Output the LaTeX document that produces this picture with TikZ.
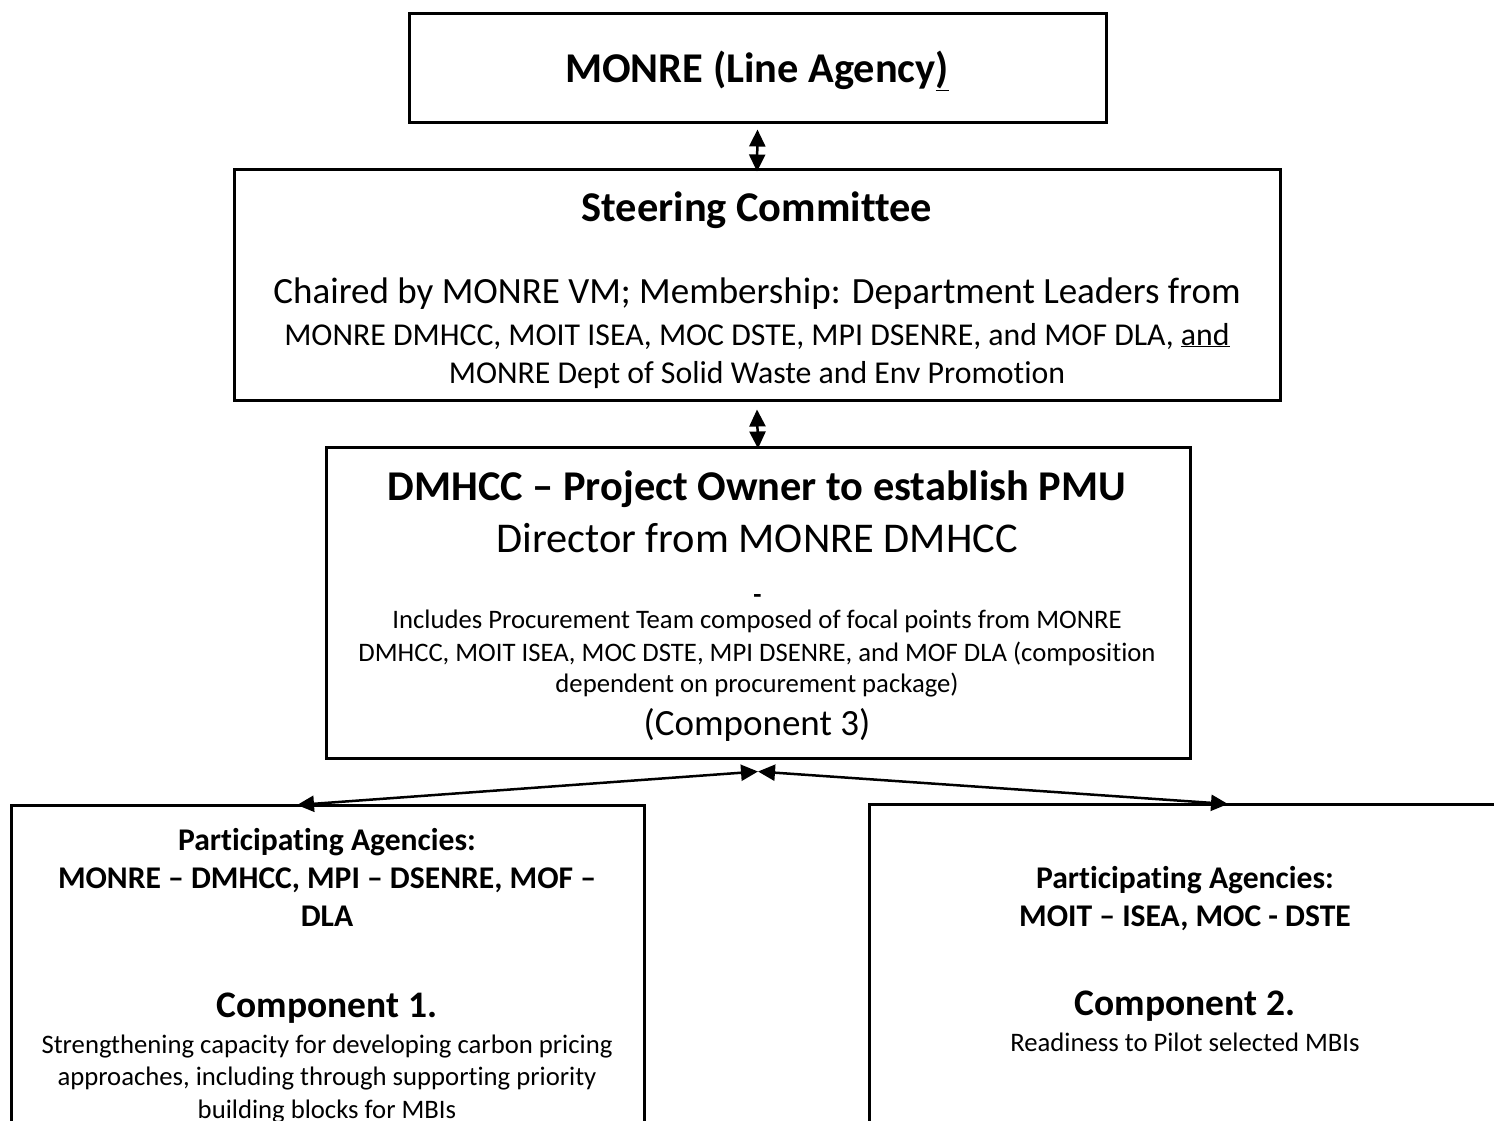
\documentclass[tikz,border=0pt]{standalone}
\usepackage{fontspec}
\setmainfont{Carlito}[Ligatures=TeX, RawFeature={-liga;-clig;-dlig}]
\usetikzlibrary{arrows.meta,fit,calc}
\begin{document}
\begin{tikzpicture}[x=1pt,y=-1pt,
  box/.style={draw, line width=3pt, inner sep=0pt},
  dblarrow/.style={line width=2.5pt, {Triangle[length=17pt,width=16pt]}-{Triangle[length=17pt,width=16pt]}},
  txt/.style={anchor=base, inner sep=0pt},
  fHB/.style={font=\fontsize{42.4}{50}\selectfont\bfseries},
  fHR/.style={font=\fontsize{42.4}{50}\selectfont},
  fMR/.style={font=\fontsize{37}{44}\selectfont},
  fMB/.style={font=\fontsize{37.5}{44}\selectfont\bfseries},
  fSR/.style={font=\fontsize{31.8}{38}\selectfont},
  fSB/.style={font=\fontsize{31.6}{38}\selectfont\bfseries},
  fXR/.style={font=\fontsize{26.7}{32}\selectfont},
  fXB/.style={font=\fontsize{26.7}{32}\selectfont\bfseries}
]
\useasboundingbox (0,0) rectangle (1494,1120);
\fill[white] (0,0) rectangle (1494,1120);
\clip (0,0) rectangle (1494,1120);

% boxes
\node[box, fit={(409,13) (1106,122)}] (monre) {};
\node[box, fit={(234,169) (1280,400)}] (steer) {};
\node[box, fit={(326,447) (1190,758)}] (dm) {};
\node[box, fit={(11,805) (644,1160)}] (lb) {};
\node[box, fit={(869,804) (1501,1160)}] (rb) {};

% texts
\node[txt, fHB] (t1) at (757,82) {MONRE (Line Agency\underline{)}};
\node[txt, fHB] (t2) at (757,221) {Steering Committee};
\node[txt, fMR] (t3) at (757,303) {Chaired by MONRE VM; Membership: Department Leaders from};
\node[txt, fSR] (t4) at (757,345) {MONRE DMHCC, MOIT ISEA, MOC DSTE, MPI DSENRE, and MOF DLA, \underline{and}};
\node[txt, fSR] (t5) at (757,383) {MONRE Dept of Solid Waste and Env Promotion};

\node[txt, fHB] (t6) at (757,500) {DMHCC -- Project Owner to establish PMU};
\node[txt, fHR] (t7) at (757,552) {Director from MONRE DMHCC};
\node[txt, fXB] (t8) at (757.5,603) {-};
\node[txt, fXR] (t9) at (757,628) {Includes Procurement Team composed of focal points from MONRE};
\node[txt, fXR] (t10) at (757,661) {DMHCC, MOIT ISEA, MOC DSTE, MPI DSENRE, and MOF DLA (composition};
\node[txt, fXR] (t11) at (757,692) {dependent on procurement package)};
\node[txt, fMR] (t12) at (757,735) {(Component 3)};

\node[txt, fSB] (t13) at (327,850) {Participating Agencies:};
\node[txt, fSB] (t14) at (327,888) {MONRE -- DMHCC, MPI -- DSENRE, MOF --};
\node[txt, fSB] (t15) at (327,926) {DLA};
\node[txt, fMB] (t16) at (327,1017) {Component 1.};
\node[txt, fXR] (t17) at (327,1053) {Strengthening capacity for developing carbon pricing};
\node[txt, fXR] (t18) at (327,1085) {approaches, including through supporting priority};
\node[txt, fXR] (t19) at (327,1118) {building blocks for MBIs};

\node[txt, fSB] (t20) at (1185,888) {Participating Agencies:};
\node[txt, fSB] (t21) at (1185,926) {MOIT -- ISEA, MOC - DSTE};
\node[txt, fMB] (t22) at (1185,1015) {Component 2.};
\node[txt, fXR] (t23) at (1185,1051) {Readiness to Pilot selected MBIs};

% connectors
\coordinate (mid) at ([yshift=-12pt]dm.south);
\coordinate (lbtip) at (297,805);
\coordinate (rbtip) at (1228,804);
\draw[dblarrow] ([yshift=-6pt]monre.south) -- ([yshift=-4pt]steer.north);
\draw[dblarrow] ([yshift=-8pt]steer.south) -- ([yshift=-3pt]dm.north);
\draw[dblarrow] (lbtip) -- (mid);
\draw[dblarrow] (mid) -- (rbtip);
\end{tikzpicture}
\end{document}
